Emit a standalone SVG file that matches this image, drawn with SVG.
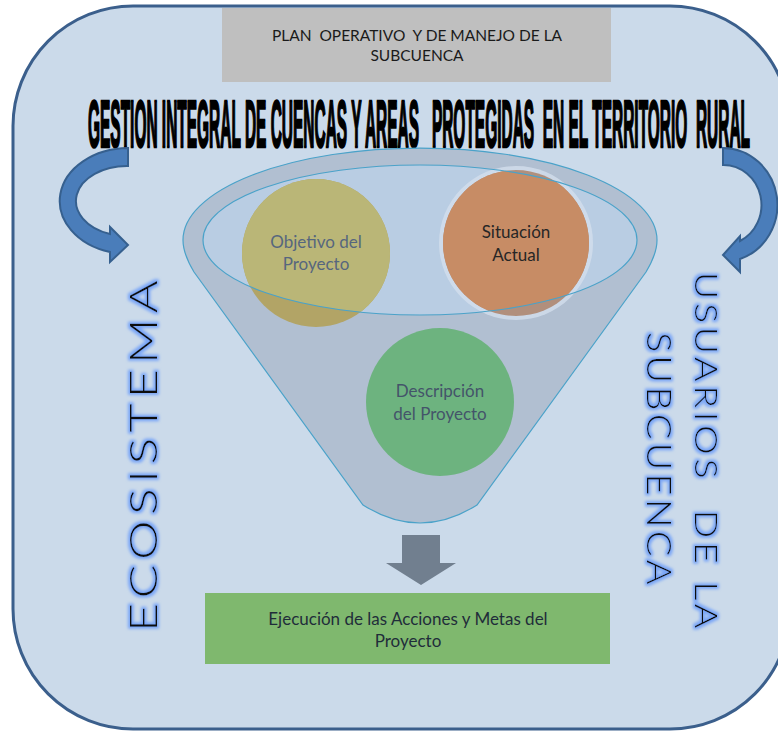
<svg xmlns="http://www.w3.org/2000/svg" width="778" height="732" viewBox="0 0 778 732">
<defs>
<style>
.lbl{font-family:Lato,"Liberation Sans",sans-serif;text-anchor:middle}
.vert{font-family:Lato,"Liberation Sans",sans-serif;font-weight:300;fill:#111}
.arrow{fill:#4a7dba;stroke:#36608f;stroke-width:2}
.funnel{stroke:#4aa2c9;stroke-width:1.2}
</style>
<filter id="glow" x="-20%" y="-20%" width="140%" height="140%">
<feMorphology operator="dilate" radius="2.4" in="SourceAlpha" result="d"/>
<feGaussianBlur in="d" stdDeviation="1.5" result="b"/>
<feFlood flood-color="#7aa6f7"/>
<feComposite in2="b" operator="in" result="g"/>
<feMerge><feMergeNode in="g"/><feMergeNode in="SourceGraphic"/></feMerge>
</filter>
<clipPath id="inner"><ellipse cx="420" cy="240" rx="217" ry="75"/></clipPath>
</defs>

<g id="background">
<rect x="13" y="6" width="777" height="723" rx="120" ry="120" fill="#cbdaea" stroke="#3b5f8c" stroke-width="3"/>
</g>

<g id="header">
<rect x="222" y="8" width="389" height="74" fill="#bfbfbf"/>
<text class="lbl" x="417" y="41" font-size="15.5" fill="#1a1a1a" xml:space="preserve">PLAN  OPERATIVO  Y DE MANEJO DE LA</text>
<text class="lbl" x="417" y="61" font-size="15.5" fill="#1a1a1a">SUBCUENCA</text>
</g>

<g id="title">
<text transform="translate(88,147) scale(1,2.2)" x="0" y="0" font-family="'Liberation Sans',Arial,sans-serif" font-weight="bold" font-size="30" textLength="662" lengthAdjust="spacingAndGlyphs" fill="#000" stroke="#000" stroke-width="1.2" xml:space="preserve">GESTION INTEGRAL DE CUENCAS Y AREAS   PROTEGIDAS  EN EL TERRITORIO  RURAL</text>
</g>

<g id="connectors">
<path class="arrow" d="M128,148 A69,53 0 0 0 110,252 L110,262 L128,245 L110,227 L110,234 A51,35 0 0 1 128,166 Z"/>
<path class="arrow" d="M723,148 A55,57 0 0 1 740,259 L740,272 L723,255 L740,236 L740,241 A38,40 0 0 0 723,165 Z"/>
<path d="M402,535 H440 V563 H456 L421,585 L386,563 H402 Z" fill="#717f8f"/>
</g>

<g id="funnel">
<path class="funnel" fill="#b1bfd1" d="M183,240 A237,92 0 0 1 657,240 C657,252 652,262 646,272 L477,505 Q420,541 363,505 L194,272 C188,262 183,252 183,240 Z"/>
<ellipse cx="420" cy="240" rx="217" ry="75" fill="#b9cde3"/>
</g>

<g id="objetivo">
<circle cx="316" cy="253" r="74" fill="#b2a466"/>
<circle cx="316" cy="253" r="74" fill="#bab677" clip-path="url(#inner)"/>
</g>

<g id="situacion">
<circle cx="516" cy="243" r="77" fill="#d3dfec" opacity="0.8"/>
<circle cx="516" cy="243" r="73" fill="#b18f7c"/>
<circle cx="516" cy="243" r="73" fill="#c78c65" clip-path="url(#inner)"/>
</g>

<g id="inner-rim">
<ellipse cx="420" cy="240" rx="217" ry="75" fill="none" stroke="#4aa2c9" stroke-width="1.2"/>
</g>

<g id="objetivo-label">
<text class="lbl" x="316" y="248" font-size="17" fill="#56667e">Objetivo del</text>
<text class="lbl" x="316" y="270" font-size="17" fill="#56667e">Proyecto</text>
</g>

<g id="situacion-label">
<text class="lbl" x="516" y="238" font-size="17" fill="#262626">Situación</text>
<text class="lbl" x="516" y="261" font-size="17" fill="#262626">Actual</text>
</g>

<g id="descripcion">
<circle cx="440" cy="402" r="74" fill="#6db37f"/>
<text class="lbl" x="440" y="397" font-size="17" fill="#44546a">Descripción</text>
<text class="lbl" x="440" y="420" font-size="17" fill="#44546a">del Proyecto</text>
</g>

<g id="ejecucion">
<rect x="205" y="593" width="405" height="71" fill="#7fb86e"/>
<text class="lbl" x="408" y="625" font-size="17" fill="#1f2d3a">Ejecución de las Acciones y Metas del</text>
<text class="lbl" x="408" y="647" font-size="17" fill="#1f2d3a">Proyecto</text>
</g>

<g id="ecosistema" filter="url(#glow)">
<text class="vert" transform="translate(157,632) rotate(-90)" x="0" y="0" font-size="38" letter-spacing="4" textLength="357" lengthAdjust="spacingAndGlyphs">ECOSISTEMA</text>
</g>

<g id="usuarios" filter="url(#glow)">
<text class="vert" transform="translate(695,272) rotate(90)" x="0" y="0" font-size="31" letter-spacing="3" textLength="360" lengthAdjust="spacingAndGlyphs" xml:space="preserve">USUARIOS  DE LA</text>
<text class="vert" transform="translate(647,332) rotate(90)" x="0" y="0" font-size="34" letter-spacing="3" textLength="256" lengthAdjust="spacingAndGlyphs">SUBCUENCA</text>
</g>
</svg>
